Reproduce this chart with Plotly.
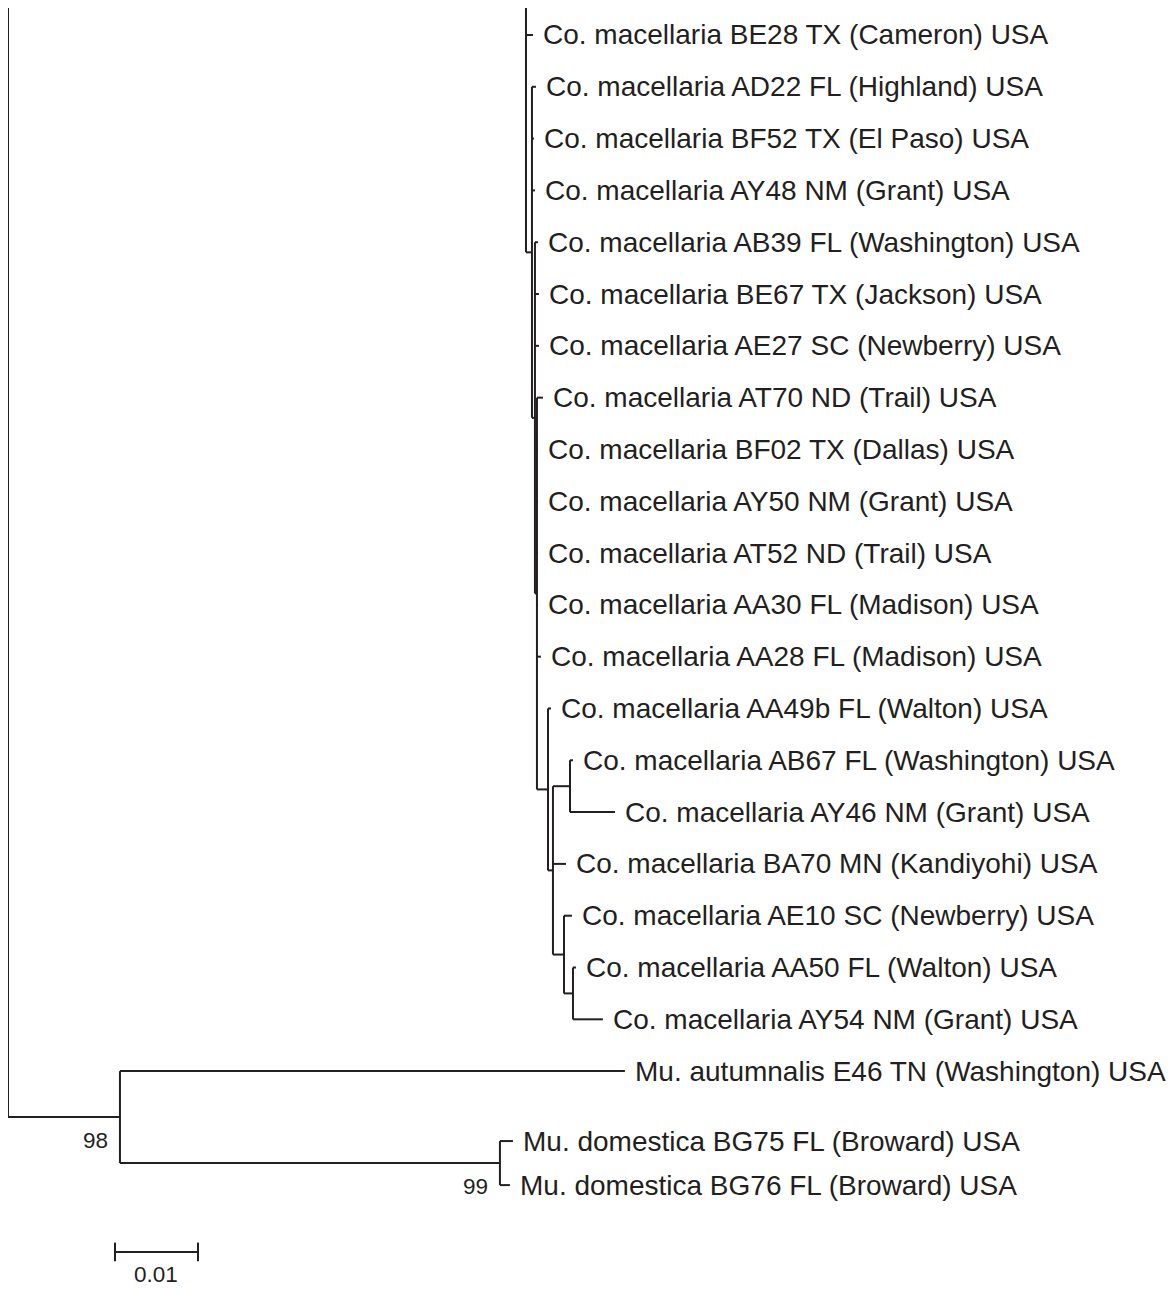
import plotly.graph_objects as go

# ---------------- data ----------------
# leaf labels and their vertical row positions (row 0 = first visible taxon)
leaf_names = [
    "BE28", "AD22", "BF52", "AY48", "AB39", "BE67", "AE27", "AT70", "BF02",
    "AY50", "AT52", "AA30", "AA28", "AA49b", "AB67", "AY46", "BA70", "AE10",
    "AA50", "AY54", "E46", "BG75", "BG76",
]
leaf_labels = [
    "Co. macellaria BE28 TX (Cameron) USA",
    "Co. macellaria AD22 FL (Highland) USA",
    "Co. macellaria BF52 TX (El Paso) USA",
    "Co. macellaria AY48 NM (Grant) USA",
    "Co. macellaria AB39 FL (Washington) USA",
    "Co. macellaria BE67 TX (Jackson) USA",
    "Co. macellaria AE27 SC (Newberry) USA",
    "Co. macellaria AT70 ND (Trail) USA",
    "Co. macellaria BF02 TX (Dallas) USA",
    "Co. macellaria AY50 NM (Grant) USA",
    "Co. macellaria AT52 ND (Trail) USA",
    "Co. macellaria AA30 FL (Madison) USA",
    "Co. macellaria AA28 FL (Madison) USA",
    "Co. macellaria AA49b FL (Walton) USA",
    "Co. macellaria AB67 FL (Washington) USA",
    "Co. macellaria AY46 NM (Grant) USA",
    "Co. macellaria BA70 MN (Kandiyohi) USA",
    "Co. macellaria AE10 SC (Newberry) USA",
    "Co. macellaria AA50 FL (Walton) USA",
    "Co. macellaria AY54 NM (Grant) USA",
    "Mu. autumnalis E46 TN (Washington) USA",
    "Mu. domestica BG75 FL (Broward) USA",
    "Mu. domestica BG76 FL (Broward) USA",
]
leaf_rows = [0, 1, 2, 3, 4, 5, 6, 7, 8, 9, 10, 11, 12, 13, 14, 15, 16, 17,
             18, 19, 20, 21.35, 22.2]
# the rest of the tree lies above the cropped view
cropped_rows = {"upper_part": -8}

# tree topology: node -> list of (child, branch length in subst./site)
tree_children = {
    "root": [("A", 0.06241), ("M", 0.01349)],
    "A": [("upper_part", 0.0), ("BE28", 0.00084), ("B", 0.00072)],
    "B": [("AD22", 0.00048), ("BF52", 0.00024), ("AY48", 0.00036), ("C", 0.00036)],
    "C": [("AB39", 0.00036), ("BE67", 0.00048), ("AE27", 0.00048), ("D", 0.00024)],
    "D": [("AT70", 0.00072), ("BF02", 0.00012), ("AY50", 0.00012), ("AT52", 0.00012),
          ("AA30", 0.00012), ("AA28", 0.00048), ("T", 0.00133)],
    "T": [("AA49b", 0.00036), ("R", 0.00060)],
    "R": [("S", 0.00205), ("BA70", 0.00157), ("Q", 0.00133)],
    "S": [("AB67", 0.00036), ("AY46", 0.00542)],
    "Q": [("AE10", 0.00096), ("P", 0.00108)],
    "P": [("AA50", 0.00036), ("AY54", 0.00361)],
    "M": [("E46", 0.06084), ("DOM", 0.04578)],
    "DOM": [("BG75", 0.00157), ("BG76", 0.00120)],
}
bootstrap = {"M": "98", "DOM": "99"}
scale_value = 0.01
scale_label = "0.01"

# ---------------- layout of the tree ----------------
row_of = dict(zip(leaf_names, leaf_rows))
row_of.update(cropped_rows)
label_of = dict(zip(leaf_names, leaf_labels))
X, Y = {}, {}


def place(node, x):
    X[node] = x
    if node not in tree_children:
        Y[node] = row_of[node]
        return Y[node]
    ys = [place(c, x + bl) for c, bl in tree_children[node]]
    Y[node] = (ys[0] + ys[-1]) / 2
    return Y[node]


place("root", 0.0)

lx, ly = [], []
for node, kids in tree_children.items():
    ys = [Y[c] for c, _ in kids]
    lx += [X[node], X[node], None]
    ly += [min(ys), max(ys), None]
    for c, _ in kids:
        lx += [X[node], X[c], None]
        ly += [Y[c], Y[c], None]

INK = "#231f20"
fig = go.Figure()
fig.add_trace(go.Scatter(x=lx, y=ly, mode="lines",
                         line=dict(color=INK, width=2), hoverinfo="skip",
                         showlegend=False))

FONT = "Liberation Sans, Arial, sans-serif"
for name in leaf_names:
    fig.add_annotation(x=X[name], y=Y[name], text=label_of[name],
                       showarrow=False, xanchor="left", yanchor="middle",
                       xshift=8, font=dict(family=FONT, size=28, color=INK))

for node, txt in bootstrap.items():
    fig.add_annotation(x=X[node], y=Y[node], text=txt, showarrow=False,
                       xanchor="right", yanchor="middle", xshift=-10, yshift=-23,
                       font=dict(family=FONT, size=22.5, color=INK))

# scale bar
sb_x0, sb_row = 0.01289, 23.49
sb_x1 = sb_x0 + scale_value
fig.add_trace(go.Scatter(
    x=[sb_x0, sb_x1, None, sb_x0, sb_x0, None, sb_x1, sb_x1],
    y=[sb_row, sb_row, None, sb_row - 0.18, sb_row + 0.18, None,
       sb_row - 0.18, sb_row + 0.18],
    mode="lines", line=dict(color=INK, width=2), hoverinfo="skip",
    showlegend=False))
fig.add_annotation(x=(sb_x0 + sb_x1) / 2, y=sb_row, text=scale_label,
                   showarrow=False, xanchor="center", yanchor="top", yshift=-8,
                   font=dict(family=FONT, size=22.5, color=INK))

# the page adds an 8 px body margin, so the view is offset accordingly
fig.update_layout(
    width=1175, height=1289,
    margin=dict(l=0, r=0, t=0, b=0),
    paper_bgcolor="white", plot_bgcolor="white",
    xaxis=dict(range=[0.0, 0.14157], visible=False, fixedrange=True),
    yaxis=dict(range=[24.36, -0.521], visible=False, fixedrange=True),
)
fig.write_html("out.html")
